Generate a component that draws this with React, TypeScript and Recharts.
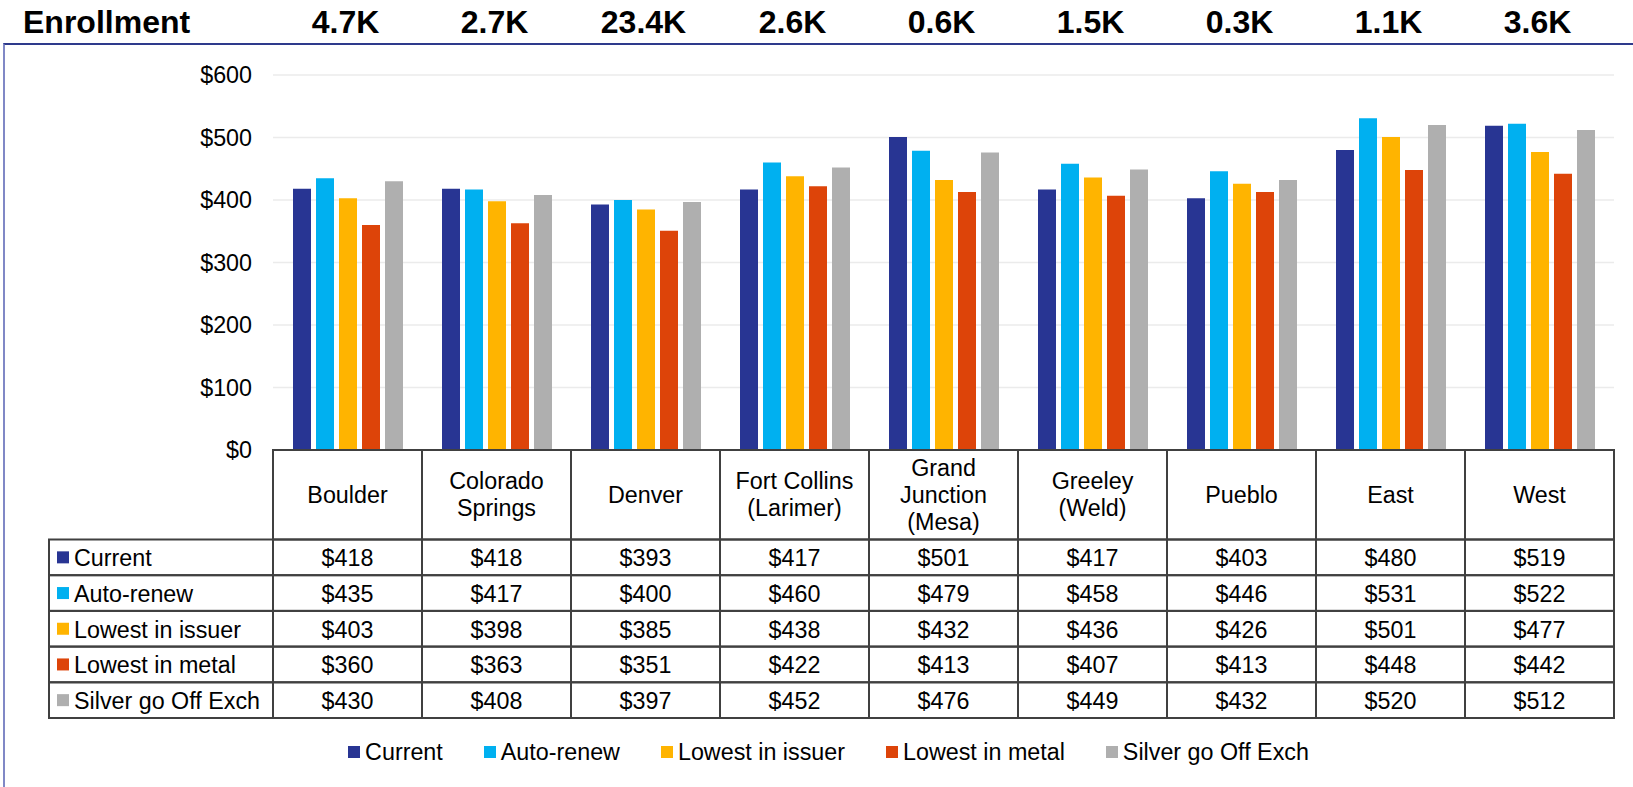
import React from 'react';
import { BarChart, Bar, XAxis, YAxis, CartesianGrid, Legend } from 'recharts';

// ---------- data ----------
const categories = [
  'Boulder',
  'Colorado\nSprings',
  'Denver',
  'Fort Collins\n(Larimer)',
  'Grand\nJunction\n(Mesa)',
  'Greeley\n(Weld)',
  'Pueblo',
  'East',
  'West',
];
const enrollment = ['4.7K', '2.7K', '23.4K', '2.6K', '0.6K', '1.5K', '0.3K', '1.1K', '3.6K'];
const current = [418, 418, 393, 417, 501, 417, 403, 480, 519];
const autoRenew = [435, 417, 400, 460, 479, 458, 446, 531, 522];
const lowestIssuer = [403, 398, 385, 438, 432, 436, 426, 501, 477];
const lowestMetal = [360, 363, 351, 422, 413, 407, 413, 448, 442];
const silverOff = [430, 408, 397, 452, 476, 449, 432, 520, 512];
const yTicks = [0, 100, 200, 300, 400, 500, 600];

const seriesNames = ['Current', 'Auto-renew', 'Lowest in issuer', 'Lowest in metal', 'Silver go Off Exch'];
const seriesKeys = ['current', 'autoRenew', 'lowestIssuer', 'lowestMetal', 'silverOff'];
const seriesValues = [current, autoRenew, lowestIssuer, lowestMetal, silverOff];
const seriesColors = ['#283593', '#00B0F0', '#FFB400', '#DD4409', '#AFAFAF'];

const data = categories.map((name, i) => {
  const row: any = { name };
  seriesKeys.forEach((k, s) => {
    row[k] = seriesValues[s][i];
  });
  return row;
});

// ---------- layout ----------
const W = 1633;
const H = 787;
const PLOT_LEFT = 273;
const PLOT_RIGHT = 1614;
const PLOT_TOP = 75;
const PLOT_BOTTOM = 450;
const YAXIS_W = 80;
const MARGIN_BOTTOM = 15;
const LEGEND_H = 40;
const XAXIS_H = H - MARGIN_BOTTOM - LEGEND_H - PLOT_BOTTOM;
const HEADER_ROW_H = 89.5;
const ROW_H = 35.7;
const LABEL_COL_LEFT = 49;
const FONT = "'Liberation Sans', Arial, sans-serif";
const FS = 23.3;
const LINE = '#404040';

const TableTick = (props: any) => {
  const { x, y, payload } = props;
  const i = categories.indexOf(payload.value);
  const colW = (PLOT_RIGHT - PLOT_LEFT) / categories.length;
  const left = x - colW / 2;
  const lines = categories[i].split('\n');
  const lh = 27;
  const headCenter = y + HEADER_ROW_H / 2;
  const firstLineY = headCenter - ((lines.length - 1) * lh) / 2;
  const els: any[] = [];
  // header cell
  els.push(
    <rect key="hc" x={left} y={y} width={colW} height={HEADER_ROW_H} fill="none" stroke={LINE} strokeWidth={2} />
  );
  lines.forEach((ln, k) => {
    els.push(
      <text key={'hl' + k} x={x} y={firstLineY + k * lh} textAnchor="middle" dominantBaseline="central" fontSize={FS} fontFamily={FONT} fill="#000">
        {ln}
      </text>
    );
  });
  // data cells
  seriesValues.forEach((vals, s) => {
    const ry = y + HEADER_ROW_H + s * ROW_H;
    els.push(<rect key={'c' + s} x={left} y={ry} width={colW} height={ROW_H} fill="none" stroke={LINE} strokeWidth={2} />);
    els.push(
      <text key={'t' + s} x={x} y={ry + ROW_H / 2 + 1} textAnchor="middle" dominantBaseline="central" fontSize={FS} fontFamily={FONT} fill="#000">
        {'$' + vals[i]}
      </text>
    );
    if (i === 0) {
      els.push(
        <rect key={'lc' + s} x={LABEL_COL_LEFT} y={ry} width={left - LABEL_COL_LEFT} height={ROW_H} fill="none" stroke={LINE} strokeWidth={2} />
      );
      els.push(<rect key={'ls' + s} x={LABEL_COL_LEFT + 8} y={ry + ROW_H / 2 - 6} width={12} height={12} fill={seriesColors[s]} />);
      els.push(
        <text key={'lt' + s} x={LABEL_COL_LEFT + 25} y={ry + ROW_H / 2 + 1} dominantBaseline="central" fontSize={FS} fontFamily={FONT} fill="#000">
          {seriesNames[s]}
        </text>
      );
    }
  });
  // enrollment header row
  els.push(
    <text key="en" x={x - 2} y={33} textAnchor="middle" fontSize={32} fontWeight="bold" fontFamily={FONT} fill="#000">
      {enrollment[i]}
    </text>
  );
  if (i === 0) {
    els.push(
      <text key="enl" x={23} y={33} fontSize={32} fontWeight="bold" fontFamily={FONT} fill="#000">
        Enrollment
      </text>
    );
  }
  return <g>{els}</g>;
};

const LegendContent = () => (
  <div
    style={{
      display: 'flex',
      justifyContent: 'center',
      alignItems: 'center',
      height: LEGEND_H,
      width: W,
      paddingLeft: 24,
      boxSizing: 'border-box',
      fontFamily: FONT,
      fontSize: FS,
      color: '#000',
    }}
  >
    {seriesNames.map((n, s) => (
      <div key={n} style={{ display: 'flex', alignItems: 'center', marginRight: s < seriesNames.length - 1 ? 41 : 0 }}>
        <span style={{ display: 'inline-block', width: 12, height: 12, background: seriesColors[s], marginRight: 5 }} />
        <span>{n}</span>
      </div>
    ))}
  </div>
);

export default function App() {
  return (
    <div style={{ position: 'absolute', left: 0, top: 0, width: W, height: H, overflow: 'hidden', background: '#fff' }}>
      <div
        style={{
          position: 'absolute',
          left: 3,
          top: 43,
          width: W + 10,
          height: H,
          borderTop: '2.5px solid #2E3A8C',
          borderLeft: '2px solid #8088C6',
        }}
      />
      <div style={{ position: 'absolute', left: 0, top: 0 }}>
        <BarChart
          width={W}
          height={H}
          data={data}
          margin={{ top: PLOT_TOP, right: W - PLOT_RIGHT, left: PLOT_LEFT - YAXIS_W, bottom: MARGIN_BOTTOM }}
          barCategoryGap={20}
          barGap={5}
        >
          <CartesianGrid vertical={false} stroke="#EBEBEB" strokeWidth={1.5} />
          <YAxis
            width={YAXIS_W}
            domain={[0, 600]}
            ticks={yTicks}
            tickFormatter={(v: number) => '$' + v}
            axisLine={false}
            tickLine={false}
            tickSize={0}
            tickMargin={21}
            tick={{ fontSize: FS, fontFamily: FONT, fill: '#000' }}
          />
          <XAxis
            dataKey="name"
            interval={0}
            axisLine={false}
            tickLine={false}
            tickSize={0}
            tickMargin={0}
            height={XAXIS_H}
            tick={(p: any) => <TableTick {...p} />}
          />
          <Legend verticalAlign="bottom" height={LEGEND_H} wrapperStyle={{ left: 0, width: W }} content={() => <LegendContent />} />
          {seriesKeys.map((k, s) => (
            <Bar key={k} dataKey={k} name={seriesNames[s]} fill={seriesColors[s]} isAnimationActive={false} />
          ))}
        </BarChart>
      </div>
    </div>
  );
}
